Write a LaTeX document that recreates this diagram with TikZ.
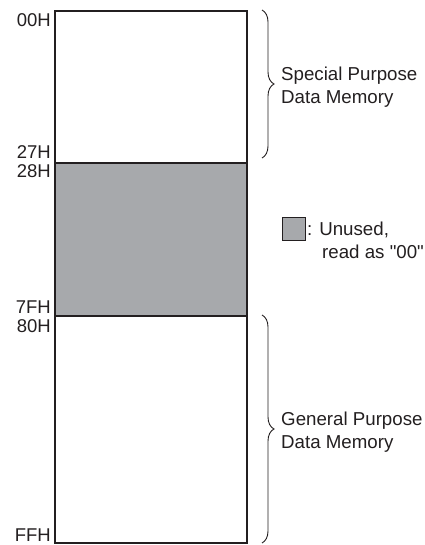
\documentclass[tikz,border=0pt]{standalone}
\usepackage{fontspec}
\setmainfont{Liberation Sans}[Ligatures=TeXOff]
\usetikzlibrary{decorations.pathreplacing}
\definecolor{unusedgray}{RGB}{167,169,172}
\definecolor{inkline}{RGB}{35,31,32}
\tikzset{
  region/.style={draw=inkline, line width=1.1pt, minimum width=192pt, inner sep=0pt, outer sep=0pt, anchor=north west},
  addr/.style={font=\fontsize{18.5}{22}\selectfont, text=inkline, inner sep=0pt, anchor=base east},
  note/.style={font=\fontsize{18.7}{22.5}\selectfont, text=inkline, inner sep=0pt, align=left},
  curly/.style={draw=inkline, line width=0.9pt, decorate, decoration={brace, amplitude=12pt, aspect=0.5}}
}
\begin{document}
\begin{tikzpicture}[x=1pt, y=-1pt]
  \useasboundingbox (0,0) rectangle (424,545);

  % memory map regions
  \node[region, minimum height=152pt] (sfr) at (55,11) {};
  \node[region, minimum height=153pt, fill=unusedgray] (unused) at (55,163) {};
  \node[region, minimum height=227pt] (gpr) at (55,316) {};

  % address labels
  \node[addr] (a00) at (51,27) {00H};
  \node[addr] (a27) at (51,159) {27H};
  \node[addr] (a28) at (51,178) {28H};
  \node[addr] (a7f) at (51,313) {7FH};
  \node[addr] (a80) at (51,332) {80H};
  \node[addr] (aff) at (51,541) {FFH};

  % braces and their captions
  \coordinate (b1top) at (262,10);
  \coordinate (b1bot) at (262,158);
  \draw[curly] (b1top) -- (b1bot);
  \node[note, anchor=west] (sfrtxt) at (281,87) {Special Purpose\\Data Memory};

  \coordinate (b2top) at (262,315);
  \coordinate (b2bot) at (262,543);
  \draw[curly] (b2top) -- (b2bot);
  \node[note, anchor=west] (gprtxt) at (281,432) {General Purpose\\Data Memory};

  % legend
  \node[draw=inkline, line width=1.1pt, fill=unusedgray, minimum width=23pt, minimum height=23pt, inner sep=0pt] (legbox) at (294,229) {};
  \node[note, anchor=base west] (legtxt1) at (307,235) {: Unused,};
  \node[note, anchor=base west] (legtxt2) at (322,258) {read as "00"};
\end{tikzpicture}
\end{document}
